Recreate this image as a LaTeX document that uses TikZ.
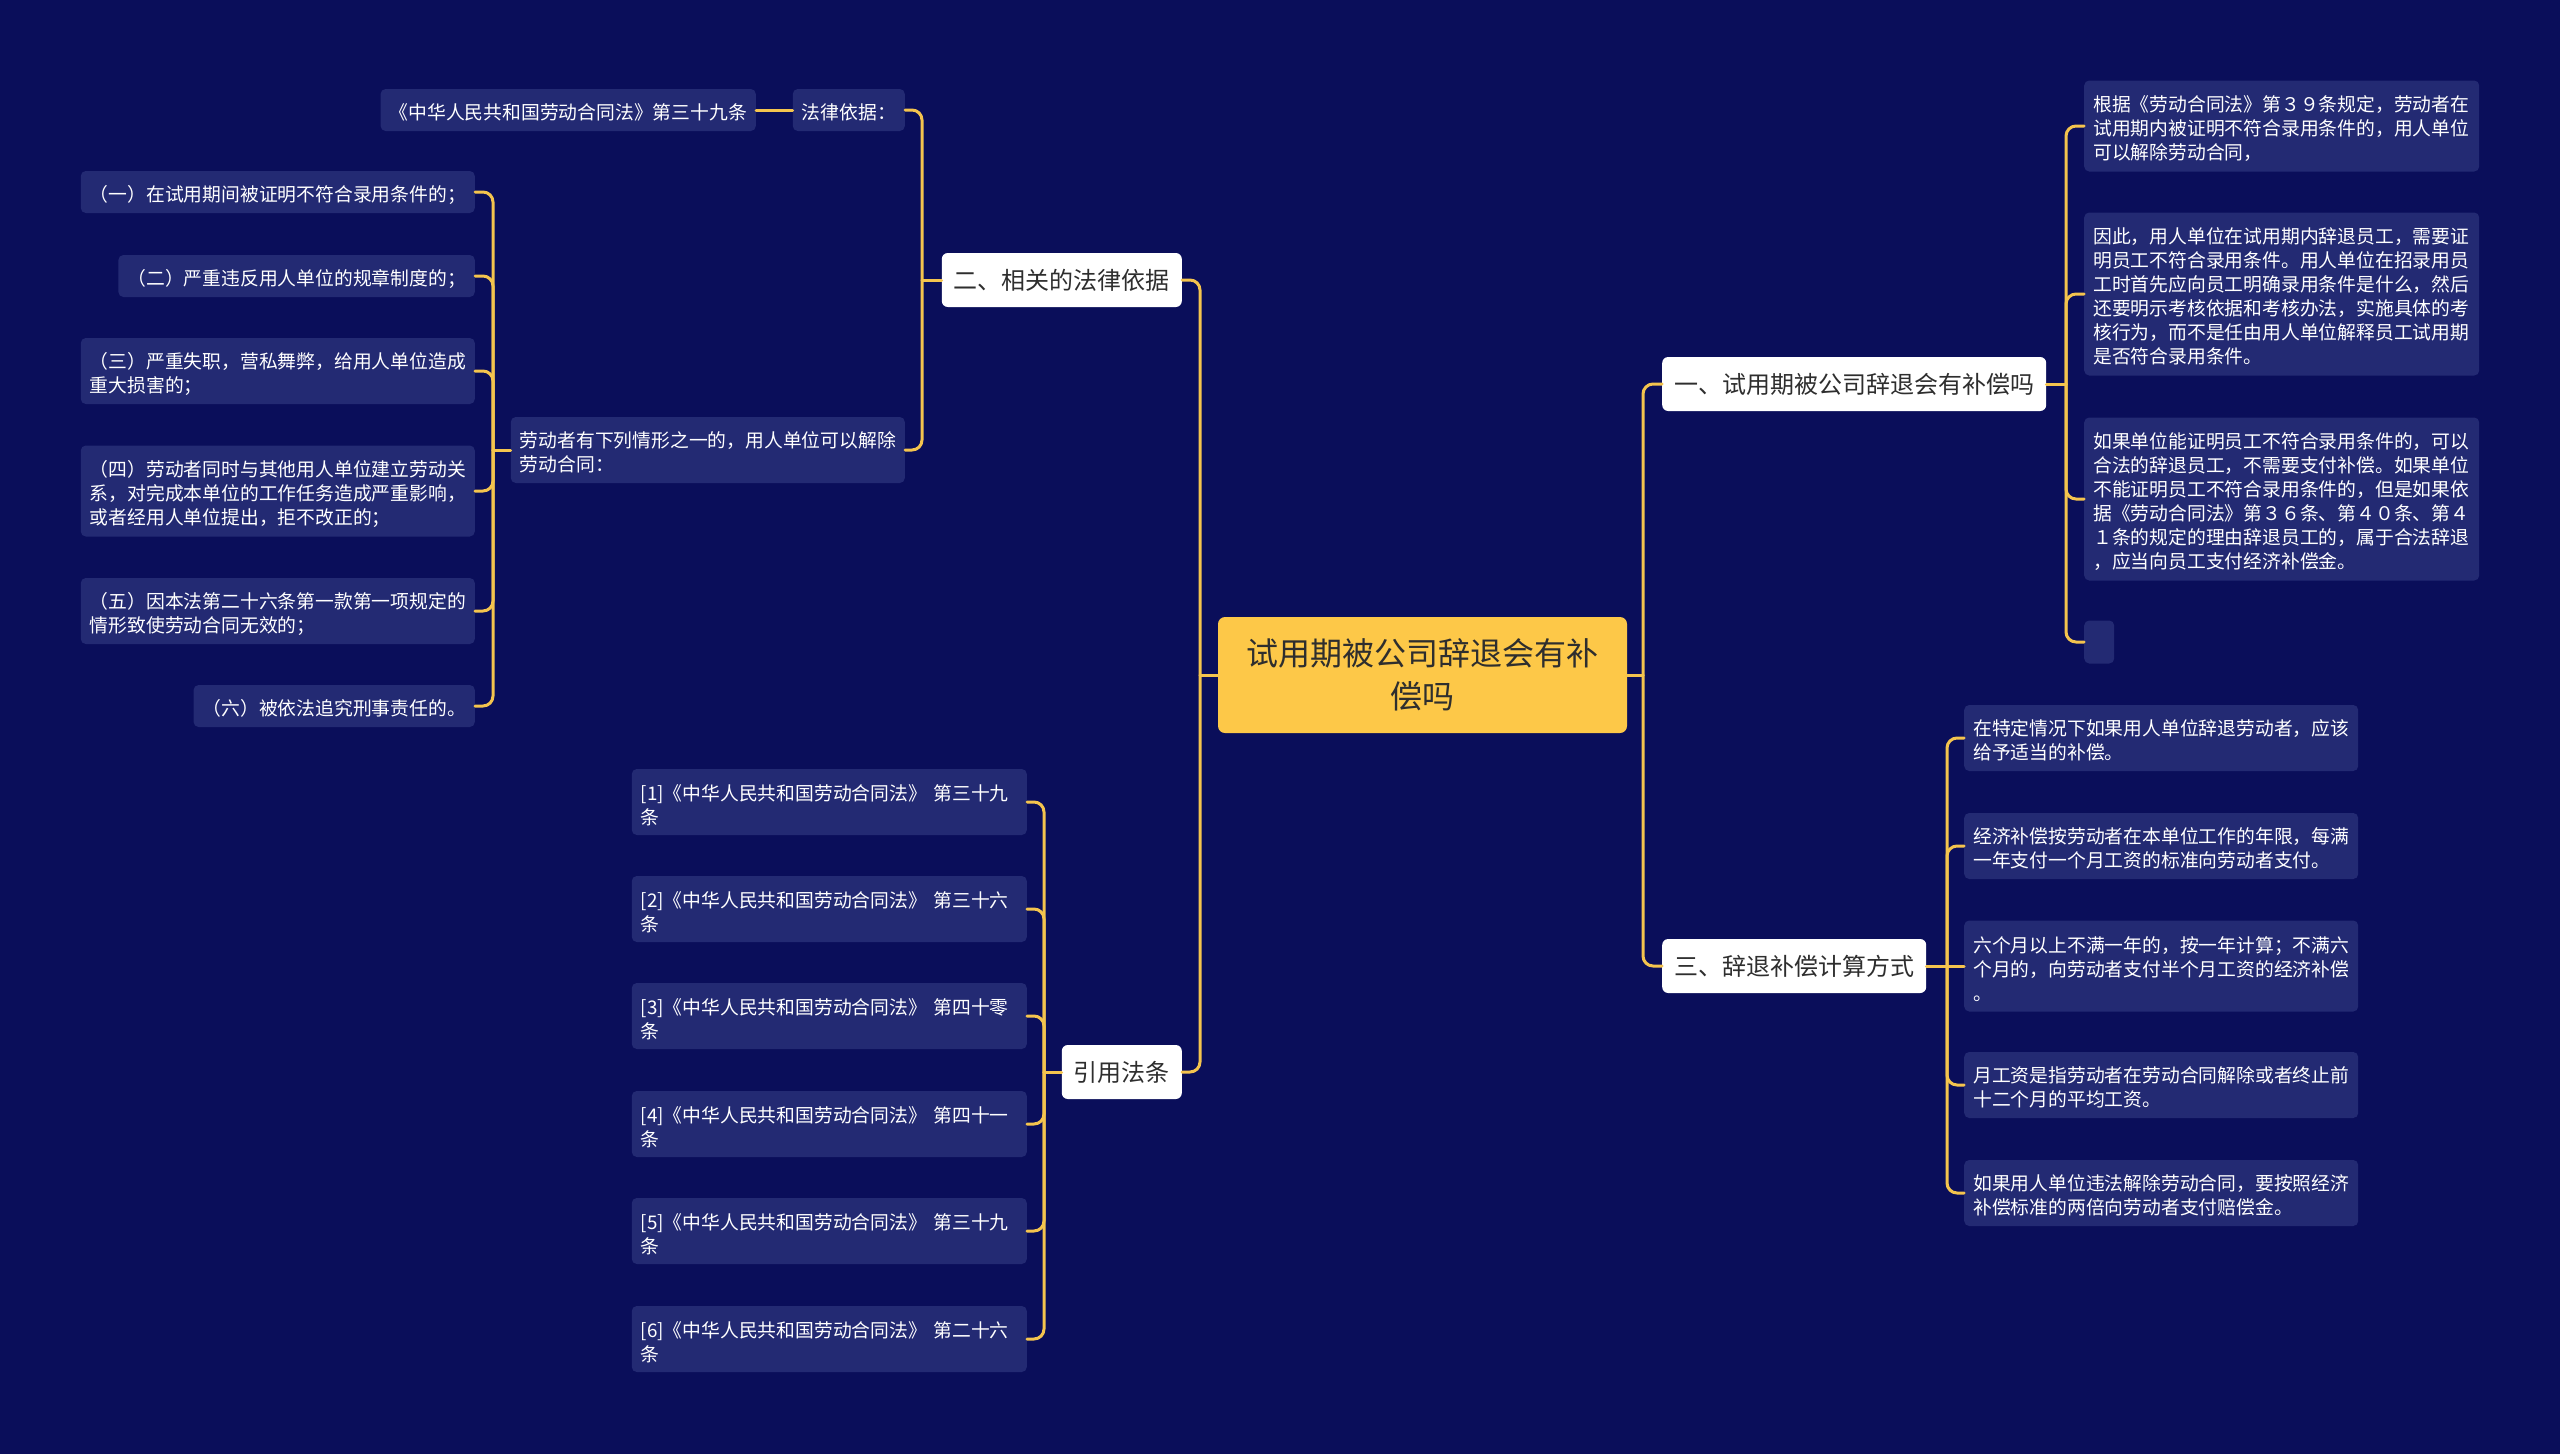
\documentclass[tikz,border=0pt]{standalone}
\usepackage{fontspec}
\newfontfamily\cjk{Noto Sans CJK SC}
\definecolor{bgc}{HTML}{0A0E5A}
\definecolor{leafc}{HTML}{232A73}
\definecolor{goldc}{HTML}{F4C44E}
\definecolor{rootc}{HTML}{FDC848}
\definecolor{inkc}{HTML}{2E2E2E}
\begin{document}
\begin{tikzpicture}[x=1pt,y=-1pt,
  leafbox/.style={fill=leafc, rounded corners=5pt, text=white,
    font=\cjk\fontsize{18.8}{24}\selectfont, inner xsep=9pt, inner ysep=0pt, align=left, text height=21.5pt},
  oneline/.style={leafbox, minimum height=42pt},
  twoline/.style={leafbox, minimum height=66pt, text width=376pt},
  threeline/.style={leafbox, minimum height=91pt, text width=377pt},
  sixline/.style={leafbox, minimum height=163pt, text width=377pt},
  topicbox/.style={fill=white, rounded corners=6pt, text=inkc,
    font=\cjk\fontsize{24}{30}\selectfont, inner xsep=12pt, inner ysep=0pt, minimum height=54pt},
  rootbox/.style={fill=rootc, rounded corners=7pt, text=inkc,
    font=\cjk\fontsize{32}{43}\selectfont, align=center, inner sep=0pt},
  link/.style={draw=goldc, line width=3pt, rounded corners=10pt, line cap=round},
]
\useasboundingbox (0,0) rectangle (2560,1454);
\fill[bgc] (0,0) rectangle (2560,1454);

% root
\node[rootbox, minimum width=409pt, minimum height=116pt] (root) at (1422.5,675) {试用期被公司辞退会有补\\偿吗};

% level 1
\node[topicbox, anchor=east] (n2) at (1182,280) {二、相关的法律依据};
\node[topicbox, anchor=east] (ncite) at (1182,1072) {引用法条};
\node[topicbox, anchor=west] (n1) at (1662,384) {一、试用期被公司辞退会有补偿吗};
\node[topicbox, anchor=west] (n3) at (1662,966) {三、辞退补偿计算方式};

% 二 subtree
\node[oneline, anchor=east] (lawbasis) at (905,110) {法律依据：};
\node[oneline, anchor=east] (law39) at (756,110) {《中华人民共和国劳动合同法》第三十九条};
\node[twoline, anchor=east] (worker) at (905,450) {劳动者有下列情形之一的，用人单位可以解除\\劳动合同：};
\node[oneline, anchor=east] (i1) at (475,192) {（一）在试用期间被证明不符合录用条件的；};
\node[oneline, anchor=east] (i2) at (475,276) {（二）严重违反用人单位的规章制度的；};
\node[twoline, anchor=east] (i3) at (475,371) {（三）严重失职，营私舞弊，给用人单位造成\\重大损害的；};
\node[threeline, text width=376pt, anchor=east] (i4) at (475,491) {（四）劳动者同时与其他用人单位建立劳动关\\系，对完成本单位的工作任务造成严重影响，\\或者经用人单位提出，拒不改正的；};
\node[twoline, anchor=east] (i5) at (475,611) {（五）因本法第二十六条第一款第一项规定的\\情形致使劳动合同无效的；};
\node[oneline, anchor=east] (i6) at (475,706) {（六）被依法追究刑事责任的。};

% cite subtree
\node[twoline, text width=377pt, anchor=east] (c1) at (1027,802) {[1]《中华人民共和国劳动合同法》 第三十九\\条};
\node[twoline, text width=377pt, anchor=east] (c2) at (1027,909) {[2]《中华人民共和国劳动合同法》 第三十六\\条};
\node[twoline, text width=377pt, anchor=east] (c3) at (1027,1016) {[3]《中华人民共和国劳动合同法》 第四十零\\条};
\node[twoline, text width=377pt, anchor=east] (c4) at (1027,1124) {[4]《中华人民共和国劳动合同法》 第四十一\\条};
\node[twoline, text width=377pt, anchor=east] (c5) at (1027,1231) {[5]《中华人民共和国劳动合同法》 第三十九\\条};
\node[twoline, text width=377pt, anchor=east] (c6) at (1027,1339) {[6]《中华人民共和国劳动合同法》 第二十六\\条};

% 一 subtree
\node[threeline, anchor=west] (r1) at (2084,126) {根据《劳动合同法》第３９条规定，劳动者在\\试用期内被证明不符合录用条件的，用人单位\\可以解除劳动合同，};
\node[sixline, anchor=west] (r2) at (2084,294) {因此，用人单位在试用期内辞退员工，需要证\\明员工不符合录用条件。用人单位在招录用员\\工时首先应向员工明确录用条件是什么，然后\\还要明示考核依据和考核办法，实施具体的考\\核行为，而不是任由用人单位解释员工试用期\\是否符合录用条件。};
\node[sixline, anchor=west] (r3) at (2084,499) {如果单位能证明员工不符合录用条件的，可以\\合法的辞退员工，不需要支付补偿。如果单位\\不能证明员工不符合录用条件的，但是如果依\\据《劳动合同法》第３６条、第４０条、第４\\１条的规定的理由辞退员工的，属于合法辞退\\，应当向员工支付经济补偿金。};
\node[fill=leafc, rounded corners=5pt, inner sep=0pt, minimum width=30pt, minimum height=43pt, anchor=west] (r4) at (2084,642) {};

% 三 subtree
\node[twoline, anchor=west] (s1) at (1964,738) {在特定情况下如果用人单位辞退劳动者，应该\\给予适当的补偿。};
\node[twoline, anchor=west] (s2) at (1964,846) {经济补偿按劳动者在本单位工作的年限，每满\\一年支付一个月工资的标准向劳动者支付。};
\node[threeline, text width=376pt, anchor=west] (s3) at (1964,966) {六个月以上不满一年的，按一年计算；不满六\\个月的，向劳动者支付半个月工资的经济补偿\\。};
\node[twoline, anchor=west] (s4) at (1964,1085) {月工资是指劳动者在劳动合同解除或者终止前\\十二个月的平均工资。};
\node[twoline, anchor=west] (s5) at (1964,1193) {如果用人单位违法解除劳动合同，要按照经济\\补偿标准的两倍向劳动者支付赔偿金。};

% junctions
\coordinate (jL) at (1200,675);
\coordinate (jR) at (1643,675);
\coordinate (j2) at (922,280);
\coordinate (jw) at (493,450);
\coordinate (jc) at (1044,1072);
\coordinate (j1) at (2066,384);
\coordinate (j3) at (1947,966);

% connectors
\draw[link] (root.west) -- (jL);
\draw[link] (jL) |- (n2.east);
\draw[link] (jL) |- (ncite.east);
\draw[link] (root.east) -- (jR);
\draw[link] (jR) |- (n1.west);
\draw[link] (jR) |- (n3.west);

\draw[link] (n2.west) -- (j2);
\draw[link] (j2) |- (lawbasis.east);
\draw[link] (j2) |- (worker.east);
\draw[link] (lawbasis.west) -- (law39.east);

\draw[link] (worker.west) -- (jw);
\foreach \k in {i1,i2,i3,i4,i5,i6} \draw[link] (jw) |- (\k.east);

\draw[link] (ncite.west) -- (jc);
\foreach \k in {c1,c2,c3,c4,c5,c6} \draw[link] (jc) |- (\k.east);

\draw[link] (n1.east) -- (j1);
\foreach \k in {r1,r2,r3,r4} \draw[link] (j1) |- (\k.west);

\draw[link] (n3.east) -- (j3);
\foreach \k in {s1,s2,s4,s5} \draw[link] (j3) |- (\k.west);
\draw[link] (j3) -- (s3.west);
\end{tikzpicture}
\end{document}
